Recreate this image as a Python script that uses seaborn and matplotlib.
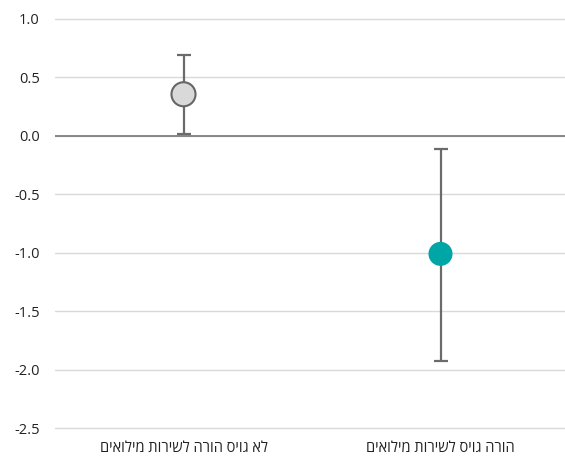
import pandas as pd
import seaborn as sns
import matplotlib.pyplot as plt

# values
groups = ["לא גויס הורה לשירות מילואים", "הורה גויס לשירות מילואים"]
means = [0.356, -1.01]
upper = [0.69, -0.115]
lower = [0.017, -1.925]
colors = ["#d9d9d9", "#00a6a6"]
yticks = [1.0, 0.5, 0.0, -0.5, -1.0, -1.5, -2.0, -2.5]

# matplotlib has no bidi support: reverse Hebrew for visual order
labels = [g[::-1] for g in groups]

df = pd.DataFrame({"group": labels, "mean": means, "upper": upper, "lower": lower})

sns.set_style("white")
plt.rcParams["font.family"] = ["Open Sans", "DejaVu Sans"]

fig = plt.figure(figsize=(5.65, 4.57), dpi=100)
ax = fig.add_axes([55 / 565, 29 / 457, 514 / 565, 409 / 457])

for y in yticks:
    ax.axhline(y, color="#d9d9d9", linewidth=1, zorder=0, clip_on=False)
ax.axhline(0, color="#7f7f7f", linewidth=1.3, zorder=1)

x = range(len(df))
ax.errorbar(x, df["mean"],
            yerr=[df["mean"] - df["lower"], df["upper"] - df["mean"]],
            fmt="none", ecolor="#6b6b6b", elinewidth=1.6, capsize=5,
            capthick=1.6, zorder=2)

sns.scatterplot(x=list(x), y=df["mean"], hue=df["group"], palette=colors,
                s=300, edgecolor=["#666666", "none"], linewidth=1.5,
                legend=False, zorder=3, ax=ax)

ax.set_xlim(-0.5, 1.5)
ax.set_ylim(-2.5, 1.0)
ax.set_xticks(list(x))
ax.set_xticklabels(df["group"], fontsize=10.5)
ax.set_yticks(yticks)
ax.set_yticklabels([f"{t:.1f}" for t in yticks], fontsize=10.5)
ax.tick_params(axis="both", length=0, colors="#222222")
ax.tick_params(axis="y", pad=11)
ax.tick_params(axis="x", pad=9)
ax.set_xlabel("")
ax.set_ylabel("")
for s in ax.spines.values():
    s.set_visible(False)

fig.savefig("out.png", dpi=100)
